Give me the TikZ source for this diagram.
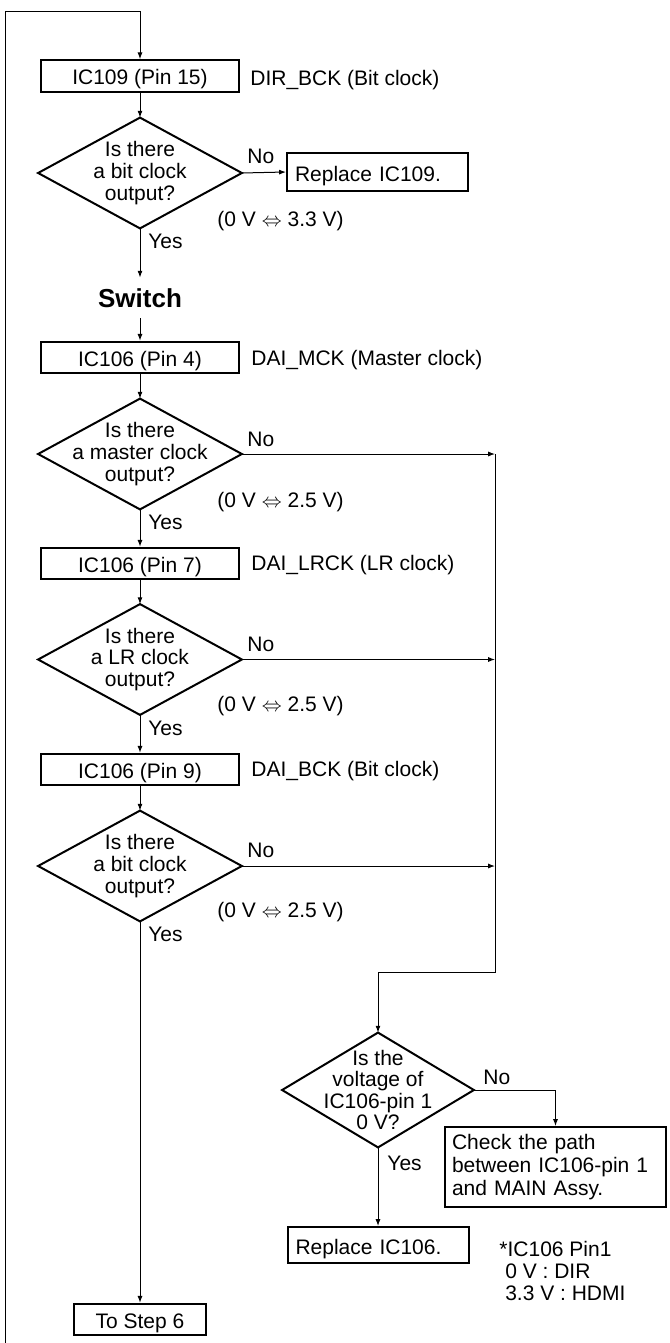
\documentclass[tikz,border=0pt]{standalone}
\usepackage{fontspec}
\setmainfont{Liberation Sans}
\usetikzlibrary{arrows.meta}
\newcommand{\fs}{\fontsize{10.5}{10.85}\selectfont}
\newcommand{\dbl}{{\fontsize{10}{10}\selectfont$\Leftrightarrow$}}
\newcommand{\drawdiamond}[1]{\draw[dedge] (#1.north) -- (#1.east) -- (#1.south) -- (#1.west) -- cycle;}
\begin{document}
\begin{tikzpicture}[x=0.5pt,y=-0.5pt,
  conn/.style={line width=0.5pt},
  arr/.style={conn,-{Latex[length=3.4pt,width=2.5pt]}},
  pbox/.style={draw,line width=1pt,font=\fs,inner sep=0pt,minimum width=99pt,minimum height=15.75pt,text height=9.5pt,text depth=0.5pt},
  lbox/.style={draw,line width=1pt,font=\fs,inner xsep=4pt,inner ysep=0pt,align=left,text width=82.5pt,text height=9.5pt,text depth=0.5pt},
  dtext/.style={font=\fs,align=center,inner sep=0pt},
  dedge/.style={draw,line width=1pt,line join=miter},
  lbl/.style={font=\fs,inner sep=0pt,anchor=base west},
]
\fill[white] (0,0) rectangle (669,1343);
\useasboundingbox (0,0) rectangle (669,1343);

% loop coordinates
\coordinate (lb) at (5,1343);
\coordinate (lt) at (5,12);

% main column
\node[pbox] (ic109) at (140,76) {IC109 (Pin 15)};
\node[lbl] (l109) at (250,86) {DIR\_BCK (Bit clock)};

\node[dtext,minimum width=101.5pt,minimum height=55pt] (d1) at (140,173) {Is there\\a bit clock\\output?};
\drawdiamond{d1}
\node[lbox,minimum height=19pt] (r109) at (377.5,172) {Replace IC109.};
\node[lbl] (n1) at (247,163) {No};
\node[lbl] (y1) at (148,248) {Yes};
\node[lbl] (v1) at (217,226) {(0 V \dbl\ 3.3 V)};

\node[font=\fontsize{13}{13}\selectfont\bfseries,inner sep=0pt,minimum height=20pt,text height=9.4pt,text depth=0pt] (sw) at (140,298) {Switch};

\node[pbox] (ic4) at (140,357.5) {IC106 (Pin 4)};
\node[lbl] (l4) at (251,365) {DAI\_MCK (Master clock)};

\node[dtext,minimum width=101.5pt,minimum height=55pt] (d2) at (140,454) {Is there\\a master clock\\output?};
\drawdiamond{d2}
\node[lbl] (n2) at (247,446) {No};
\node[lbl] (y2) at (148,529) {Yes};
\node[lbl] (v2) at (217,507) {(0 V \dbl\ 2.5 V)};

\node[pbox] (ic7) at (140,563.5) {IC106 (Pin 7)};
\node[lbl] (l7) at (251,570) {DAI\_LRCK (LR clock)};

\node[dtext,minimum width=101.5pt,minimum height=55pt] (d3) at (140,659.5) {Is there\\a LR clock\\output?};
\drawdiamond{d3}
\node[lbl] (n3) at (247,651) {No};
\node[lbl] (y3) at (148,735) {Yes};
\node[lbl] (v3) at (217,711) {(0 V \dbl\ 2.5 V)};

\node[pbox] (ic9) at (140,769.5) {IC106 (Pin 9)};
\node[lbl] (l9) at (251,776) {DAI\_BCK (Bit clock)};

\node[dtext,minimum width=101.5pt,minimum height=55pt] (d4) at (140,866) {Is there\\a bit clock\\output?};
\drawdiamond{d4}
\node[lbl] (n4) at (247,857) {No};
\node[lbl] (y4) at (148,941) {Yes};
\node[lbl] (v4) at (217,917) {(0 V \dbl\ 2.5 V)};

\node[pbox,minimum width=66pt] (step6) at (140,1319.5) {To Step 6};

% right column
\coordinate (ve1) at (495,454);
\coordinate (ve2) at (495,972);

\node[dtext,font=\fontsize{10.5}{10.65}\selectfont,minimum width=95.5pt,minimum height=57pt] (d5) at (378,1090) {Is the\\voltage of\\IC106-pin 1\\0 V?};
\drawdiamond{d5}
\node[lbl] (n5) at (483,1084) {No};
\node[lbl] (y5) at (387,1170) {Yes};

\node[draw,line width=1pt,font=\fontsize{10.5}{11.7}\selectfont,inner xsep=3.5pt,inner ysep=0pt,align=left,text width=103.5pt,minimum height=40pt] (chk) at (555.5,1167) {Check the path\\between IC106-pin 1\\and MAIN Assy.};
\node[lbox,minimum height=18pt] (r106) at (378,1245) {Replace IC106.};

\node[font=\fs,align=left,inner sep=0pt,anchor=north west] (note) at (499,1241) {*IC106 Pin1\\\hspace*{.28em}0 V : DIR\\\hspace*{.28em}3.3 V : HDMI};

% connectors
\draw[arr] (lb) -- (lt) -| (ic109.north);
\draw[arr] (ic109.south) -- (d1.north);
\draw[arr] (d1.east) -- (r109.west);
\draw[arr] (d1.south) -- (sw.north);
\draw[arr] (sw.south) -- (ic4.north);
\draw[arr] (ic4.south) -- (d2.north);
\draw[arr] (d2.east) -- (ve1);
\draw[arr] (d2.south) -- (ic7.north);
\draw[arr] (ic7.south) -- (d3.north);
\draw[arr] (d3.east) -- (d3.east -| ve1);
\draw[arr] (d3.south) -- (ic9.north);
\draw[arr] (ic9.south) -- (d4.north);
\draw[arr] (d4.east) -- (d4.east -| ve1);
\draw[arr] (d4.south) -- (step6.north);
\draw[arr] (ve1) -- (ve2) -| (d5.north);
\draw[arr] (d5.east) -| (chk.north);
\draw[arr] (d5.south) -- (r106.north);
\end{tikzpicture}
\end{document}
